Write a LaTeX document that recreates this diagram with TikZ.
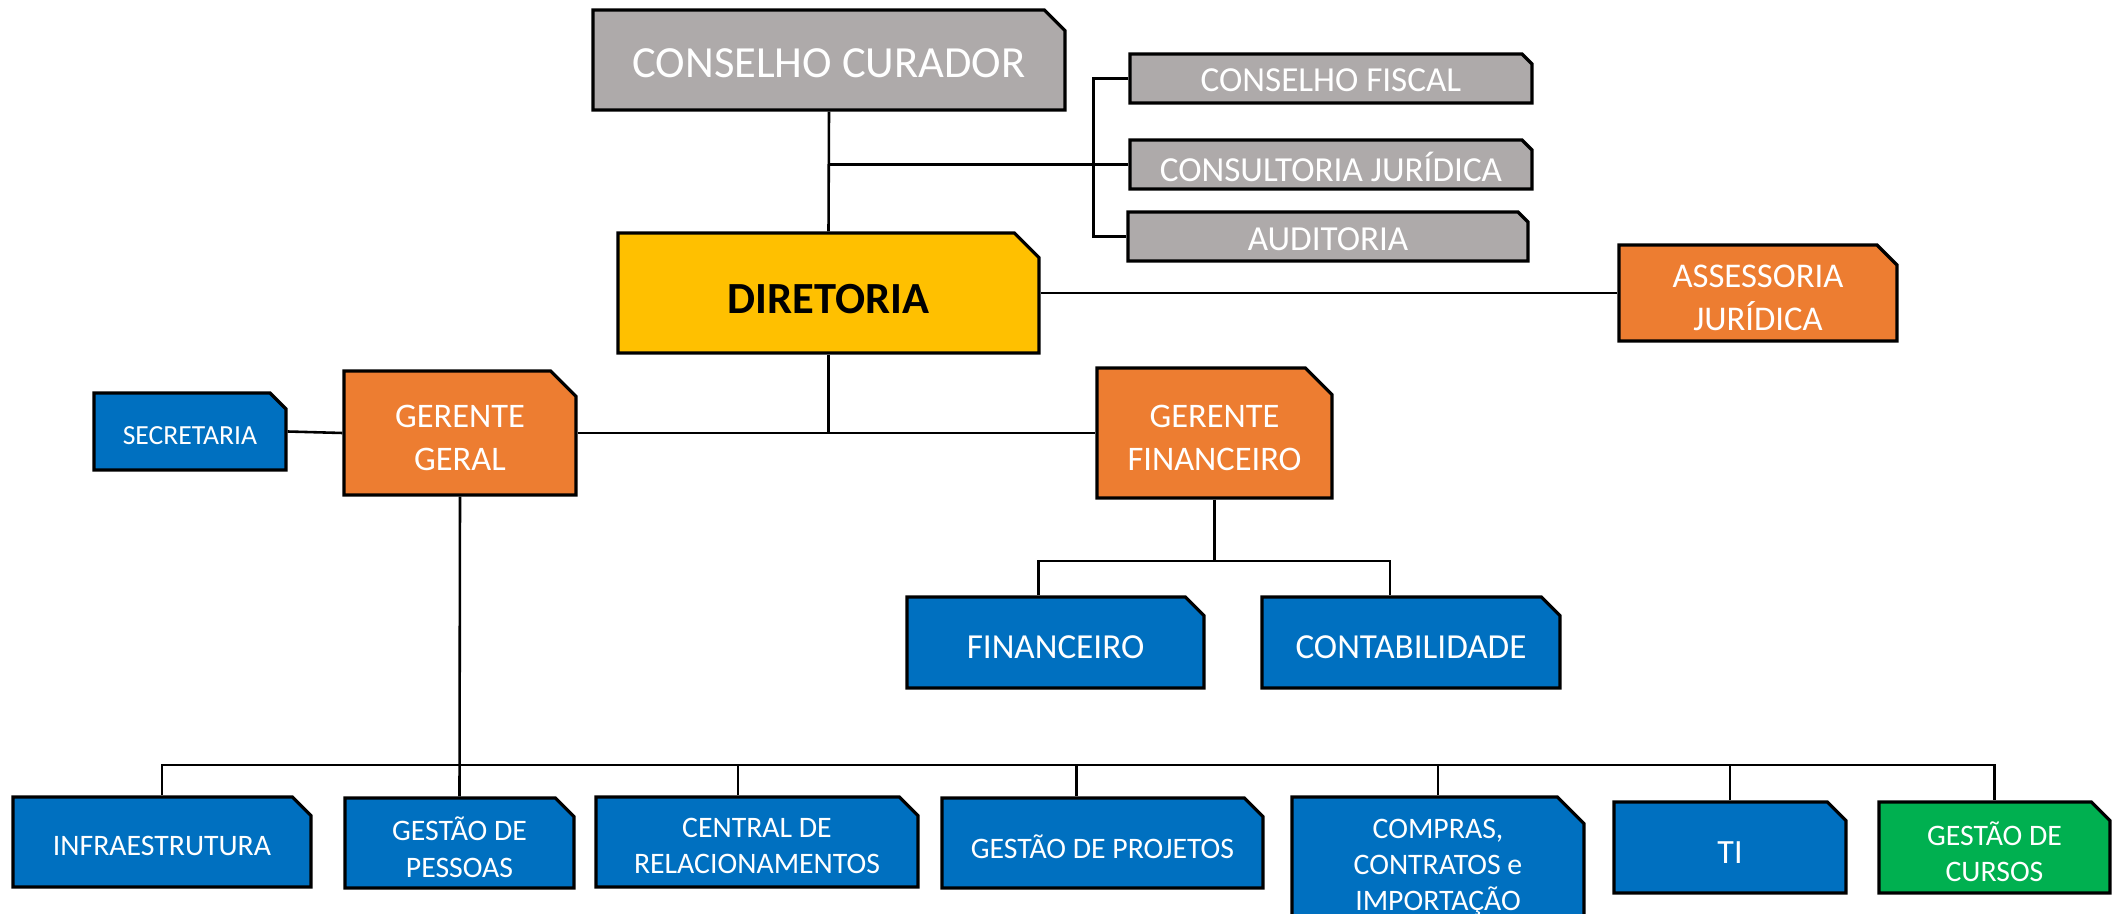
\documentclass[tikz,border=0pt]{standalone}
\usepackage{fontspec}
\setmainfont{Carlito}
\usetikzlibrary{shapes.misc,calc}
\definecolor{cinza}{HTML}{AEAAAA}
\definecolor{amarelo}{HTML}{FFC000}
\definecolor{laranja}{HTML}{ED7D31}
\definecolor{azul}{HTML}{0070C0}
\definecolor{verde}{HTML}{00B050}
% apoio invisivel: baixa um pouco o texto dentro da caixa
\newcommand\desce[1][0.92em]{\rule{0pt}{#1}}
\tikzset{
  caixa/.style={chamfered rectangle, chamfered rectangle corners=north east,
    draw=black, line width=1.4pt, text=white, align=center, inner sep=0pt},
  corte/.style={chamfered rectangle xsep=#1, chamfered rectangle ysep=#1},
  tam/.style 2 args={minimum width=#1*0.15mm, minimum height=#2*0.15mm},
  liga/.style={line width=1.1pt},
}
\begin{document}
\begin{tikzpicture}[x=0.15mm,y=-0.15mm]
    \useasboundingbox (0,0) rectangle (2112,914);

    % topo
    \node[caixa, fill=cinza, tam={472}{100}, corte=1.55mm, font=\fontsize{19}{23}\selectfont] (cc) at (829,60) {\desce[0.8em]CONSELHO CURADOR};
    \node[caixa, fill=cinza, tam={402}{49}, corte=0.75mm, font=\fontsize{15}{18}\selectfont] (cf) at (1331,78.5) {\desce[0.76em]CONSELHO FISCAL};
    \node[caixa, fill=cinza, tam={402}{49}, corte=0.75mm, font=\fontsize{15}{18}\selectfont] (cj) at (1331,164.5) {\desce[0.96em]CONSULTORIA JURÍDICA};
    \node[caixa, fill=cinza, tam={400}{49}, corte=0.75mm, font=\fontsize{15}{18}\selectfont] (au) at (1328,236.5) {\desce[0.8em]AUDITORIA};
    \node[caixa, fill=amarelo, text=black, tam={421}{120}, corte=1.85mm, font=\bfseries\fontsize{19}{23}\selectfont] (dir) at (828.5,293) {\desce DIRETORIA};
    \node[caixa, fill=laranja, tam={278}{96}, corte=1.5mm, font=\fontsize{14.8}{18.4}\selectfont] (aj) at (1758,293) {\desce ASSESSORIA\\JURÍDICA};

    % gerencias
    \node[caixa, fill=laranja, tam={232}{124}, corte=1.9mm, font=\fontsize{14.7}{18.4}\selectfont] (gg) at (460,433) {\desce GERENTE\\GERAL};
    \node[caixa, fill=azul, tam={192}{77}, corte=1.2mm, font=\fontsize{11.8}{14}\selectfont] (sec) at (190,431.5) {\desce SECRETARIA};
    \node[caixa, fill=laranja, tam={235}{130}, corte=2mm, font=\fontsize{14.7}{18.4}\selectfont] (gf) at (1214.5,433) {\desce GERENTE\\FINANCEIRO};
    \node[caixa, fill=azul, tam={297}{91}, corte=1.4mm, font=\fontsize{15}{18}\selectfont] (fin) at (1055.5,642.5) {\desce FINANCEIRO};
    \node[caixa, fill=azul, tam={298}{91}, corte=1.4mm, font=\fontsize{15}{18}\selectfont] (con) at (1411,642.5) {\desce CONTABILIDADE};

    % setores
    \tikzset{every node/.append style={font=\fontsize{12.7}{15.4}\selectfont}}
    \node[caixa, fill=azul, tam={298}{90}, corte=1.4mm] (inf) at (162,842) {\desce INFRAESTRUTURA};
    \node[caixa, fill=azul, tam={229}{90}, corte=1.4mm] (gp) at (459.5,843) {\desce[1.08em]GESTÃO DE\\PESSOAS};
    \node[caixa, fill=azul, tam={322}{90}, corte=1.4mm] (cr) at (757,842) {\desce CENTRAL DE\\RELACIONAMENTOS};
    \node[caixa, fill=azul, tam={321}{90}, corte=1.4mm] (gpr) at (1102.5,843) {\desce[1.08em]GESTÃO DE PROJETOS};
    \node[caixa, fill=azul, tam={292}{132}, corte=2mm] (cci) at (1438,863) {\desce COMPRAS,\\CONTRATOS e\\IMPORTAÇÃO};
    \node[caixa, fill=azul, tam={232}{91}, corte=1.4mm, font=\fontsize{14.5}{17}\selectfont] (ti) at (1730,847.5) {\desce TI};
    \node[caixa, fill=verde, tam={231}{91}, corte=1.4mm] (gc) at (1994.5,847.5) {\desce[1.08em]GESTÃO DE\\CURSOS};

    \draw[liga] (cc.south) -- (dir.north);
    \draw[liga] (cc.south |- cj.west) -- (cj.west);
    \draw[liga] (cf.west) -- ++(-35,0) |- (au.west);
    \draw[liga] (dir.east) -- (aj.west);
    \draw[liga] (dir.south) -- (dir.south |- gg.east);
    \draw[liga] (sec.east) -- (gg.west);
    \draw[liga] (gg.east) -- (gf.west);

    \coordinate (fbus) at (0,561);
    \draw[liga] (gf.south) -- (gf.south |- fbus);
    \draw[liga] ($(fin.north)+(-17,0)$) coordinate (ft) -- (ft |- fbus) -| ($(con.north)+(-21,0)$);

    \coordinate (bus) at (0,765);
    \draw[liga] (inf.north) -- (inf.north |- bus) -- (gc.north |- bus) -- (gc.north);
    \draw[liga] (gg.south) -- (gp.north);
    \foreach \n/\d in {cr/-19,gpr/-26,cci/0,ti/0}
        \draw[liga] ($(\n.north)+(\d,0)$) coordinate (t) -- (t |- bus);
\end{tikzpicture}
\end{document}
